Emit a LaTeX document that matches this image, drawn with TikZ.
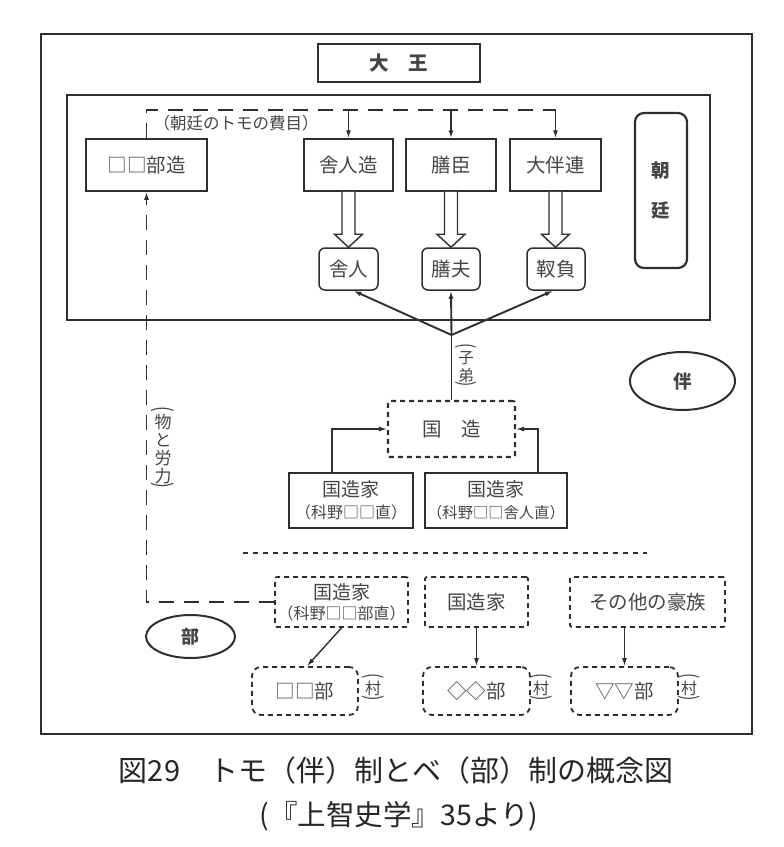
\documentclass[tikz,border=0pt]{standalone}
\usepackage{graphicx}
\usepackage{fontspec}
\setmainfont{Noto Sans CJK JP}
\usetikzlibrary{arrows.meta,calc,shapes.geometric}
\definecolor{ink}{HTML}{2E2E2E}
\definecolor{txt}{HTML}{454545}
\newcommand\vtight{\lineskiplimit=-100pt\relax}
\newcommand\vopen{\rotatebox[origin=c]{-90}{\scalebox{1}[1.35]{(}}}
\newcommand\vclose{\rotatebox[origin=c]{-90}{\scalebox{1}[1.35]{)}}}
\newcommand\hollowarrow[2]{%
  \draw[hollow] let \p1=(#1.south), \p2=(#2.north) in
  ({\x1-6.5pt},\y1) -- ({\x1-6.5pt},{\y2+13pt}) -- ({\x1-14pt},{\y2+13pt}) -- (\x1,\y2)
  -- ({\x1+14pt},{\y2+13pt}) -- ({\x1+6.5pt},{\y2+13pt}) -- ({\x1+6.5pt},\y1);}
\begin{document}
\begin{tikzpicture}[x=1pt,y=-1pt,
  every node/.style={text=txt, inner sep=0pt, font=\fontsize{19.5}{21}\selectfont},
  box/.style={draw=ink, line width=1.5pt},
  rbox/.style={box, rounded corners=6pt},
  dbox/.style={draw=ink, line width=1.8pt, dash pattern=on 5pt off 4pt, rounded corners=2pt},
  drbox/.style={dbox, rounded corners=9pt},
  kingbox/.style={draw=ink, line width=2.6pt},
  longdash/.style={draw=ink, line width=1.7pt, dash pattern=on 15pt off 10pt},
  arr/.style={draw=ink, line width=1.4pt, -{Latex[length=8pt,width=5pt]}},
  hollow/.style={draw=ink, line width=1.4pt, fill=white},
  oval/.style={ellipse, draw=ink, line width=2pt},
  twoline/.style={align=center, font=\fontsize{19}{22}\selectfont},
  vlabel/.style={align=center, font=\fontsize{17}{18}\selectfont},
]
\useasboundingbox (0,0) rectangle (784,847);
% frames
\draw[ink, line width=1.6pt] (41,34) rectangle (752,734);
\draw[ink, line width=1.5pt] (67,95) rectangle (710,320);

% king
\node[kingbox, minimum width=162pt, minimum height=38pt, font=\bfseries\fontsize{19.5}{20}\selectfont] (king) at (399,63) {大　王};

% court row
\node[box, minimum width=121pt, minimum height=52pt] (beZo) at (146.5,165) {□□部造};
\node[box, minimum width=89pt, minimum height=52pt] (toneriZo) at (348.5,165) {舎人造};
\node[box, minimum width=90pt, minimum height=52pt] (kashiwadeOmi) at (451,165) {膳臣};
\node[box, minimum width=91pt, minimum height=52pt] (otomoMuraji) at (555.5,165) {大伴連};
\node[draw=ink, line width=2.2pt, rounded corners=9pt, minimum width=52pt, minimum height=155pt,
      align=center, font=\bfseries\fontsize{18.5}{40}\selectfont] (chotei) at (661,190.5) {朝\\廷};

\node[rbox, minimum width=59pt, minimum height=42pt] (toneri) at (348.5,269) {舎人};
\node[rbox, minimum width=58pt, minimum height=42pt] (kashiwade) at (451,269) {膳夫};
\node[rbox, minimum width=58pt, minimum height=42pt] (yugei) at (556,269) {靫負};

% top dashed line (tomo levy)
\coordinate (topR) at (555.5,110);
\draw[longdash] (beZo.north) |- (topR);
\draw[arr] (toneriZo.north |- topR) -- (toneriZo.north);
\draw[arr] (kashiwadeOmi.north |- topR) -- (kashiwadeOmi.north);
\draw[arr] (otomoMuraji.north |- topR) -- (otomoMuraji.north);
\node[font=\fontsize{16.5}{18}\selectfont] (hiyo) at (236,123) {（朝廷のトモの費目）};

% hollow arrows
\hollowarrow{toneriZo}{toneri}
\hollowarrow{kashiwadeOmi}{kashiwade}
\hollowarrow{otomoMuraji}{yugei}

% kuni no miyatsuko
\node[dbox, line width=2.1pt, minimum width=127pt, minimum height=56pt] (kunZo) at (451.5,429) {国　造};
\node[box, minimum width=124pt, minimum height=55pt, twoline] (kz1) at (351,500.5)
  {国造家\\{\fontsize{16}{16}\selectfont（科野□□直）}};
\node[box, minimum width=142pt, minimum height=55pt, twoline] (kz2) at (496,500.5)
  {国造家\\{\fontsize{15.3}{16}\selectfont（科野□□舎人直）}};

\coordinate (junc) at (kunZo.north |- 0,335);
\draw[ink, line width=1.9pt] (kunZo.north) -- (junc);
\draw[arr, line width=1.9pt] (junc) -- ([xshift=5pt]toneri.south);
\draw[arr, line width=1.9pt] (junc) -- (kashiwade.south);
\draw[arr, line width=1.9pt] (junc) -- ([xshift=-3pt]yugei.south);
\node[vlabel, font=\fontsize{15.5}{17.5}\selectfont] (shitei) at (466,367) {\vtight\vopen\\[-6pt]子\\弟\\[-8pt]\vclose};

\draw[arr] ([xshift=-19pt]kz1.north) |- (kunZo.west);
\draw[arr] ([xshift=42pt]kz2.north) |- (kunZo.east);

% tomo oval
\node[oval, minimum width=105pt, minimum height=58pt, font=\bfseries\fontsize{18.5}{20}\selectfont] (tomo) at (682.5,381) {伴};

% separator
\draw[ink, line width=1.7pt, dash pattern=on 5pt off 5pt] (243,553) -- (647,553);

% bottom row
\node[dbox, minimum width=133pt, minimum height=50pt, twoline] (kz3) at (341.5,602)
  {国造家\\[-2pt]{\fontsize{16}{16}\selectfont（科野□□部直）}};
\node[dbox, minimum width=103pt, minimum height=50pt] (kz4) at (476.5,602) {国造家};
\node[dbox, minimum width=155pt, minimum height=50pt] (gozoku) at (647.5,602) {その他の豪族};

\node[drbox, minimum width=106pt, minimum height=48pt] (be1) at (305,691) {□□部};
\node[drbox, minimum width=107pt, minimum height=48pt] (be2) at (476.5,691) {◇◇部};
\node[drbox, minimum width=107pt, minimum height=48pt] (be3) at (624.5,691) {▽▽部};

\node[vlabel, font=\fontsize{16}{18}\selectfont] (mura1) at (373,689) {\vtight\vopen\\[-6pt]村\\[-8pt]\vclose};
\node[vlabel, font=\fontsize{16}{18}\selectfont] (mura2) at (541,689) {\vtight\vopen\\[-6pt]村\\[-8pt]\vclose};
\node[vlabel, font=\fontsize{16}{18}\selectfont] (mura3) at (689,689) {\vtight\vopen\\[-6pt]村\\[-8pt]\vclose};

\draw[arr] (kz3.south) -- ([xshift=2pt]be1.north);
\draw[arr] (be2.north |- kz4.south) -- (be2.north);
\draw[arr] (be3.north |- gozoku.south) -- (be3.north);

% be oval
\node[oval, minimum width=89pt, minimum height=43pt, font=\bfseries\fontsize{18}{20}\selectfont] (beOval) at (190.5,636.5) {部};

% goods and labour dashed line
\draw[longdash, -{Latex[length=8pt,width=5pt]}] (kz3.west) -| (beZo.south);
\node[vlabel] (mono) at (163,449) {\vtight\vopen\\[-6pt]物\\と\\労\\力\\[-8pt]\vclose};

% caption
\node[text=black!85, font=\fontsize{29}{32}\selectfont] (cap1) at (396,770) {図29　トモ（伴）制とベ（部）制の概念図};
\node[text=black!85, font=\fontsize{28.5}{32}\selectfont] (cap2) at (399,816) {(『上智史学』35より)};
\end{tikzpicture}
\end{document}
